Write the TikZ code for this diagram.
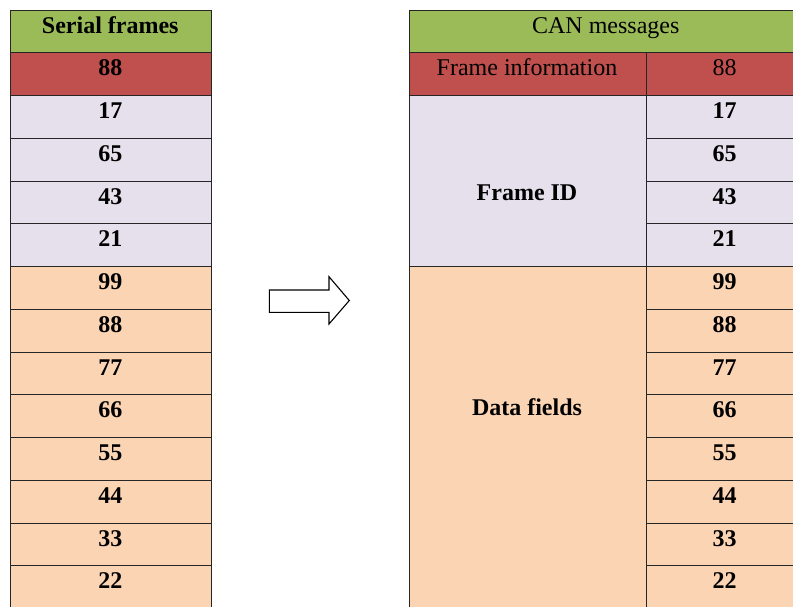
\documentclass[tikz,border=0pt]{standalone}
\usepackage{fontspec}
\setmainfont{Liberation Serif}
\definecolor{hdrgreen}{HTML}{9BBB59}
\definecolor{infored}{HTML}{C0504D}
\definecolor{idlav}{HTML}{E5E0EC}
\definecolor{datapeach}{HTML}{FBD4B4}
\tikzset{
  cell/.style={draw=black!85, line width=0.9pt, inner sep=0pt, anchor=north west},
  lbl/.style={anchor=base, inner sep=0pt, font=\fontsize{24}{28}\selectfont},
  blbl/.style={lbl, font=\fontsize{24}{28}\selectfont\bfseries},
}
\begin{document}
\begin{tikzpicture}[x=1pt, y=-1pt]
\useasboundingbox (0,0) rectangle (793,606);
\clip (0,0) rectangle (793,606);
\fill[white] (0,0) rectangle (793,606);

% ---- serial frames (left table) ----
\node[cell, fill=hdrgreen, minimum width=201.5pt, minimum height=42.75pt] (L0) at (9.5,9.5) {};
\node[blbl] (LT0) at (110.25,33) {Serial frames};
\foreach \v [count=\i] in {88,17,65,43,21,99,88,77,66,55,44,33,22} {
  \ifnum\i=1 \def\cc{infored}\else\ifnum\i<6 \def\cc{idlav}\else\def\cc{datapeach}\fi\fi
  \node[cell, fill=\cc, minimum width=201.5pt, minimum height=42.75pt] (L\i) at (9.5,{9.5+42.75*\i}) {};
  \node[blbl] (LT\i) at (110.25,{33+42.75*\i}) {\v};
}

% ---- CAN messages (right table) ----
\node[cell, fill=hdrgreen, minimum width=395pt, minimum height=42.75pt] (R0) at (408.5,9.5) {};
\node[lbl] (RT0) at (605.75,33) {CAN messages};
\node[cell, fill=infored, minimum width=237pt, minimum height=42.75pt] (FI) at (408.5,52.25) {};
\node[lbl] (FIT) at (527,75.75) {Frame information};
\node[cell, fill=idlav, minimum width=237pt, minimum height=171pt] (ID) at (408.5,95) {};
\node[blbl] (IDT) at (527,200) {Frame ID};
\node[cell, fill=datapeach, minimum width=237pt, minimum height=342pt] (DF) at (408.5,266) {};
\node[blbl] (DFT) at (527,415) {Data fields};
\node[cell, fill=infored, minimum width=158pt, minimum height=42.75pt] (R1) at (645.5,52.25) {};
\node[lbl] (RT1) at (724.5,75.75) {88};
\foreach \v [count=\i from 2] in {17,65,43,21,99,88,77,66,55,44,33,22} {
  \ifnum\i<6 \def\cc{idlav}\else\def\cc{datapeach}\fi
  \node[cell, fill=\cc, minimum width=158pt, minimum height=42.75pt] (R\i) at (645.5,{9.5+42.75*\i}) {};
  \node[blbl] (RT\i) at (724.5,{33+42.75*\i}) {\v};
}

% ---- conversion arrow ----
\draw[line width=1.1pt, fill=white, line join=miter]
  (269.3,290) -- (329,290) -- (329,276.7) -- (349.3,300.5) -- (329,324)
  -- (329,312.3) -- (269.3,312.3) -- cycle;
\end{tikzpicture}
\end{document}
